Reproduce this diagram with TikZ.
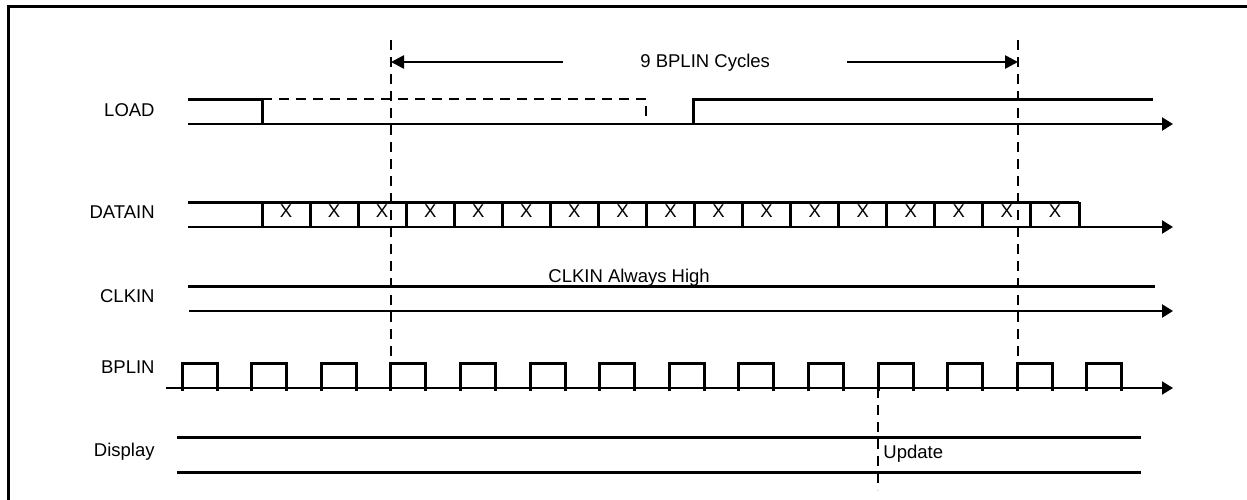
\documentclass[tikz,border=0pt]{standalone}
\usepackage{fontspec}
\setmainfont{Liberation Sans}
\usetikzlibrary{arrows.meta}
\tikzstyle{sigLine}=[line width = 1.5pt]
\tikzstyle{axisLine}=[line width = 1.2pt, -{Triangle[length = 5.5pt, width = 6.5pt]}]

\begin{document}
\begin{tikzpicture}[x = 0.5pt, y = -0.5pt, font = \fontsize{9.25}{11}\selectfont]
\tikzstyle{sigName}=[anchor = base east, inner sep = 0pt]
\tikzstyle{noteText}=[anchor = base west, inner sep = 0pt]
\tikzstyle{markLine}=[line width = 1.3pt, dash pattern = on 5pt off 3.5pt]
\tikzstyle{dimArrow}=[line width = 1.3pt, -{Triangle[length = 6.5pt, width = 6.5pt]}]
\useasboundingbox (0,0) rectangle (1247,499);
% frame
\draw[line width = 1.5pt] (8,520) |- (1270,6);
% signal names
\node[sigName] (load) at (155,116) {LOAD};
\node[sigName] (datain) at (155,218) {DATAIN};
\node[sigName] (clkin) at (155,302.5) {CLKIN};
\node[sigName] (bplin) at (155,373) {BPLIN};
\node[sigName] (display) at (155,456) {Display};
% marker lines
\coordinate (mA) at (391,40);
\coordinate (mB) at (1018,40);
\coordinate (mAend) at (391,363);
\coordinate (mBend) at (1018,363);
\coordinate (upd) at (878,388);
\coordinate (updEnd) at (878,490);
\draw[markLine] (mA) -- (mAend);
\draw[markLine] (mB) -- (mBend);
\draw[markLine] (upd) -- (updEnd);
% 9 BPLIN cycles
\node[noteText] (cycles) at (640,67) {9 BPLIN Cycles};
\coordinate (cycA) at (391,62);
\coordinate (cycB) at (1018,62);
\draw[dimArrow] (563,62) -- (cycA);
\draw[dimArrow] (847,62) -- (cycB);
% LOAD
\draw[axisLine] (188,124) -- (1173,124);
\draw[sigLine] (188,99) -- (262,99) -- (262,124);
\draw[sigLine] (693,124) -- (693,99) -- (1153,99);
\draw[markLine] (262,99) -- (646,99) -- (646,124);
% DATAIN
\draw[axisLine] (188,227) -- (1173,227);
\draw[sigLine] (188,202) -- (1079,202);
\foreach \k in {0,...,17}
  \draw[sigLine] (262+48.06*\k,202) -- (262+48.06*\k,227);
\foreach \k in {0,...,16}
  \node[anchor = base, inner sep = 0pt] (x\k) at (286+48.06*\k,217) {X};
% CLKIN
\node[noteText] (always) at (548,282) {CLKIN Always High};
\draw[sigLine] (188,286) -- (1155,286);
\draw[axisLine] (189,311) -- (1173,311);
% BPLIN
\draw[axisLine, line width = 1pt] (166,388) -- (1173,388);
\foreach \k in {0,...,13}
  \draw[sigLine] (182+69.6*\k,391) -- (182+69.6*\k,363) -- (217+69.6*\k,363) -- (217+69.6*\k,391);
% Display
\draw[sigLine] (177,437) -- (1141,437);
\draw[sigLine] (177,472) -- (1141,472);
\node[noteText] (update) at (883,458) {Update};
\end{tikzpicture}
\end{document}
